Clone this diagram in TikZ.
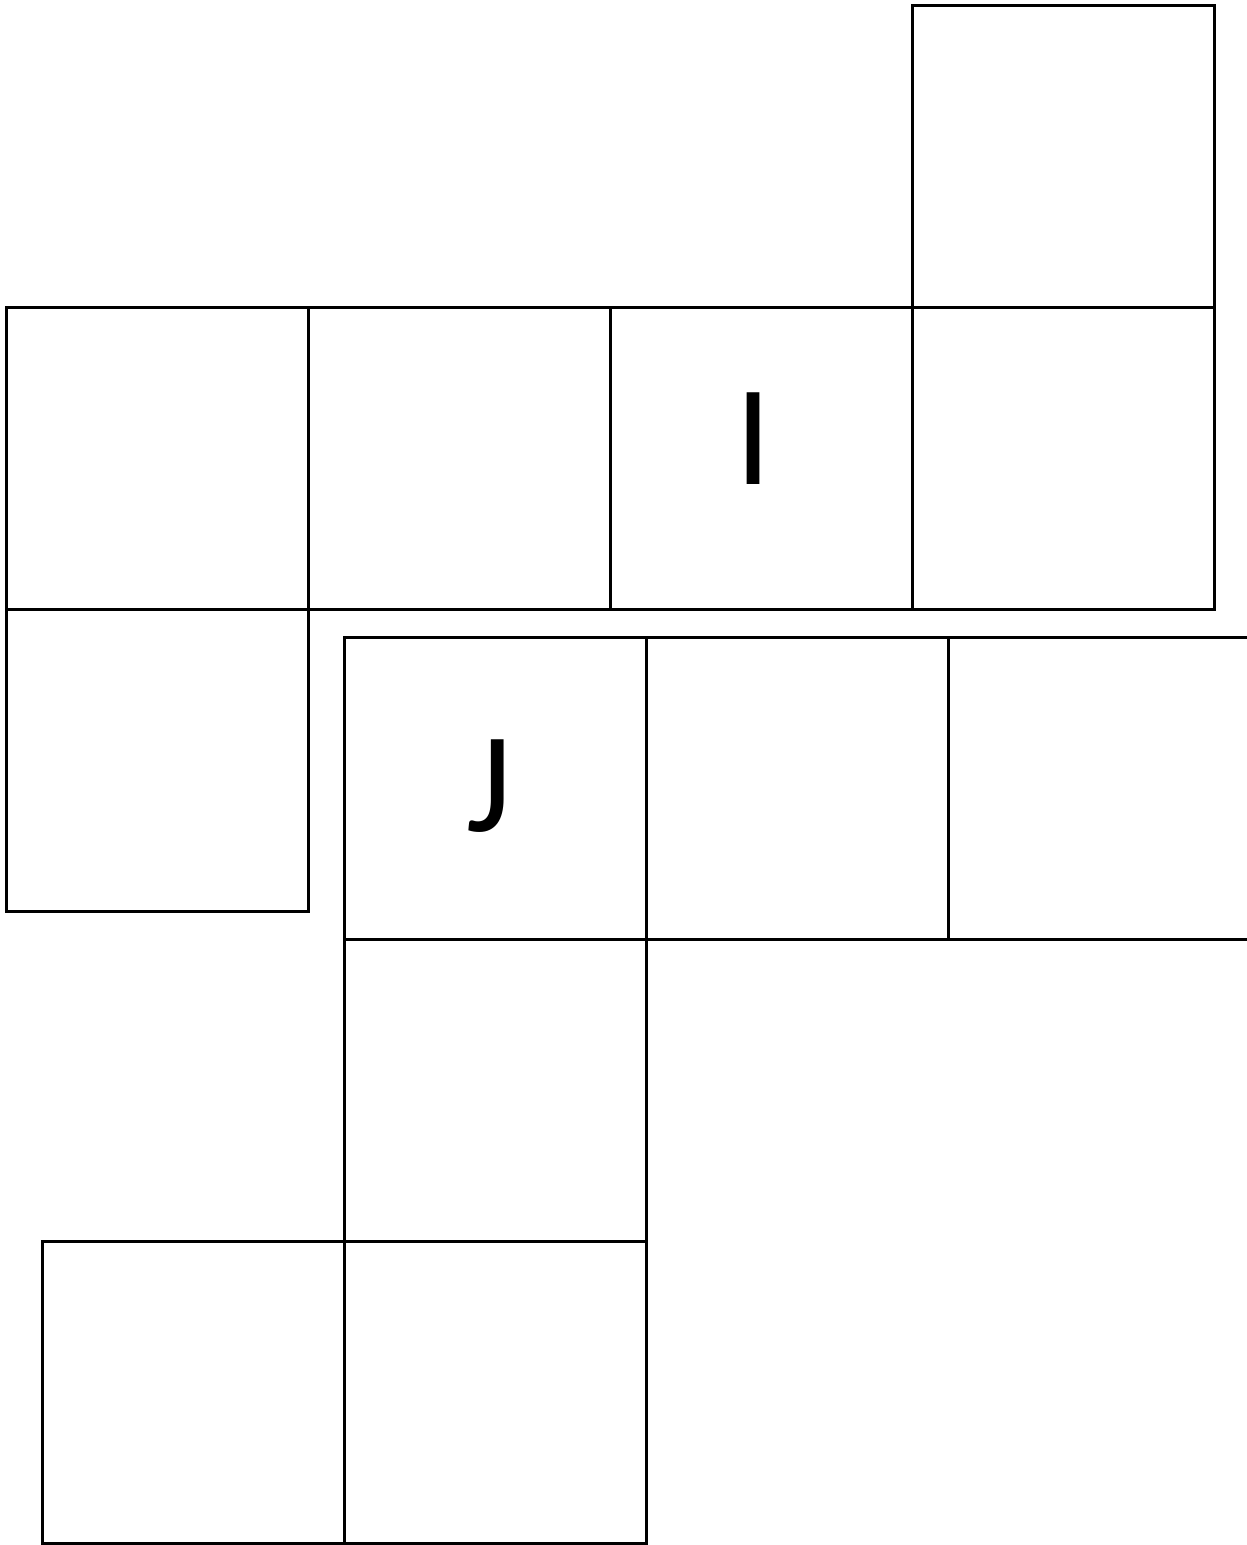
\documentclass[tikz,border=0pt]{standalone}
\usepackage{fontspec}
\setmainfont{Carlito}
\usetikzlibrary{positioning}
\tikzset{
  cell/.style={rectangle,draw=black,line width=3pt,minimum size=302pt,
    inner sep=0pt,outer sep=0pt},
  letter/.style={inner sep=0pt,font=\fontsize{143}{143}\selectfont},
}
\begin{document}
\begin{tikzpicture}[x=1pt,y=-1pt,node distance=0pt]
  \useasboundingbox (0,0) rectangle (1247,1545);
  % upper row with the square above its right end
  \node[cell] (r1a) at (157,458) {};
  \node[cell,right=of r1a] (r1b) {};
  \node[cell,right=of r1b] (r1c) {};
  \node[cell,right=of r1c] (r1d) {};
  \node[cell,above=of r1d] (top) {};
  \node[cell,below=of r1a] (left) {};
  % lower group
  \node[cell] (r2a) at (495,788) {};
  \node[cell,right=of r2a] (r2b) {};
  \node[cell,right=of r2b] (r2c) {};
  \node[cell,below=of r2a] (mid) {};
  \node[cell,below=of mid] (r3b) {};
  \node[cell,left=of r3b] (r3a) {};
  % letters
  \node[letter] (li) at ([shift={(-7,-19)}]r1c.center) {I};
  \node[letter] (lj) at ([shift={(-6,-2)}]r2a.center) {J};
\end{tikzpicture}
\end{document}
